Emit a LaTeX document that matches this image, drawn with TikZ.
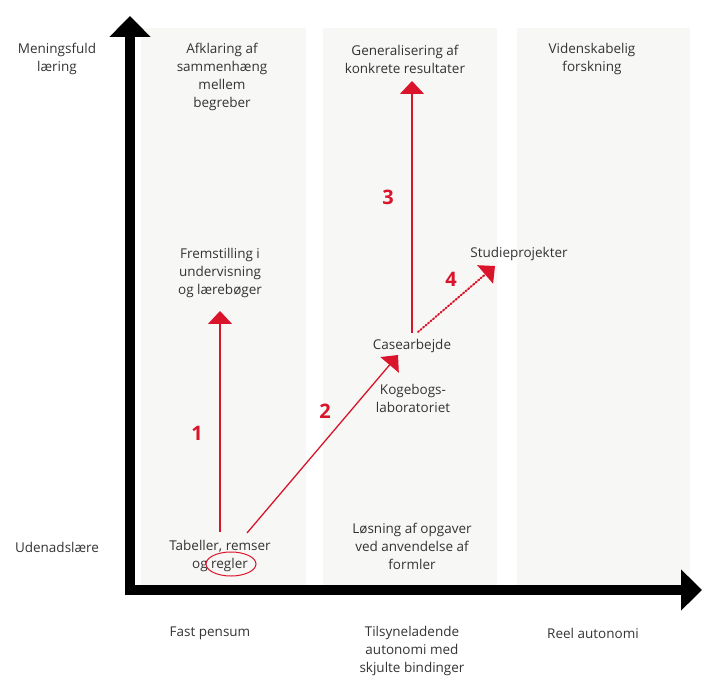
\documentclass[tikz,border=0pt]{standalone}
\usepackage{fontspec}
\setmainfont{Open Sans}
\usetikzlibrary{arrows.meta}
\definecolor{panel}{HTML}{F7F7F5}
\definecolor{txt}{HTML}{333333}
\definecolor{redarr}{HTML}{D9142B}
\tikzset{
  lbl/.style={align=center, text=txt, font=\fontsize{13.5}{18}\selectfont, inner sep=0pt},
  num/.style={text=redarr, font=\fontsize{20}{22}\selectfont\bfseries, inner sep=0pt},
  redline/.style={draw=redarr, line width=1.3pt, -{Triangle[width=24pt,length=13pt]}},
  axis/.style={line width=10pt, -{Triangle[width=40pt,length=21pt]}},
}
\begin{document}
\begin{tikzpicture}[x=1pt,y=-1pt]
\useasboundingbox (0,0) rectangle (702,676);
% panels
\fill[panel] (141,28) rectangle (306,590);
\fill[panel] (323,28) rectangle (497,590);
\fill[panel] (517,28) rectangle (690,590);
% axes
\coordinate (ytop) at (130,16);
\coordinate (xend) at (702,590);
\draw[axis] (130,595) -- (ytop);
\draw[axis] (125,590) -- (xend);
% axis labels
\node[lbl] (mf) at (57,59) {Meningsfuld\\læring};
\node[lbl] (ud) at (57,547) {Udenadslære};
\node[lbl] (fp) at (210,633) {Fast pensum};
\node[lbl] (ta) at (412,651) {Tilsyneladende\\autonomi med\\skjulte bindinger};
\node[lbl] (ra) at (593,633) {Reel autonomi};
% cell texts
\node[lbl] (afk) at (222,77) {Afklaring af\\sammenhæng\\mellem\\begreber};
\node[lbl] (gen) at (405,59) {Generalisering af\\konkrete resultater};
\node[lbl] (vid) at (592,59) {Videnskabelig\\forskning};
\node[lbl] (frem) at (220,273) {Fremstilling i\\undervisning\\og lærebøger};
\node[lbl] (case) at (412,346) {Casearbejde};
\node[lbl] (koge) at (413,398) {Kogebogs-\\laboratoriet};
\node[lbl] (stud) at (519,254) {Studieprojekter};
\node[lbl] (tab) at (220,556) {Tabeller, remser\\og regler};
\node[lbl] (los) at (412,546) {Løsning af opgaver\\ved anvendelse af\\formler};
% ellipse around regler
\draw[redarr, line width=1pt] (231,564) ellipse [x radius=25, y radius=12];
% arrows
\coordinate (a1s) at (220,532);
\coordinate (a1e) at (220,311);
\coordinate (a2s) at (247,533);
\coordinate (a2e) at (398,355);
\coordinate (a3s) at (412,333);
\coordinate (a3e) at (412,81);
\coordinate (a4s) at (418,332);
\coordinate (a4e) at (495,266);
\draw[redline] (a1s) -- (a1e);
\draw[redline] (a2s) -- (a2e);
\draw[redline] (a3s) -- (a3e);
\draw[redline, dotted, line width=2pt, line cap=round] (a4s) -- (a4e);
% numbers
\node[num] (n1) at (197,433) {1};
\node[num] (n2) at (325,411) {2};
\node[num] (n3) at (388,197) {3};
\node[num] (n4) at (451,279) {4};
\end{tikzpicture}
\end{document}
